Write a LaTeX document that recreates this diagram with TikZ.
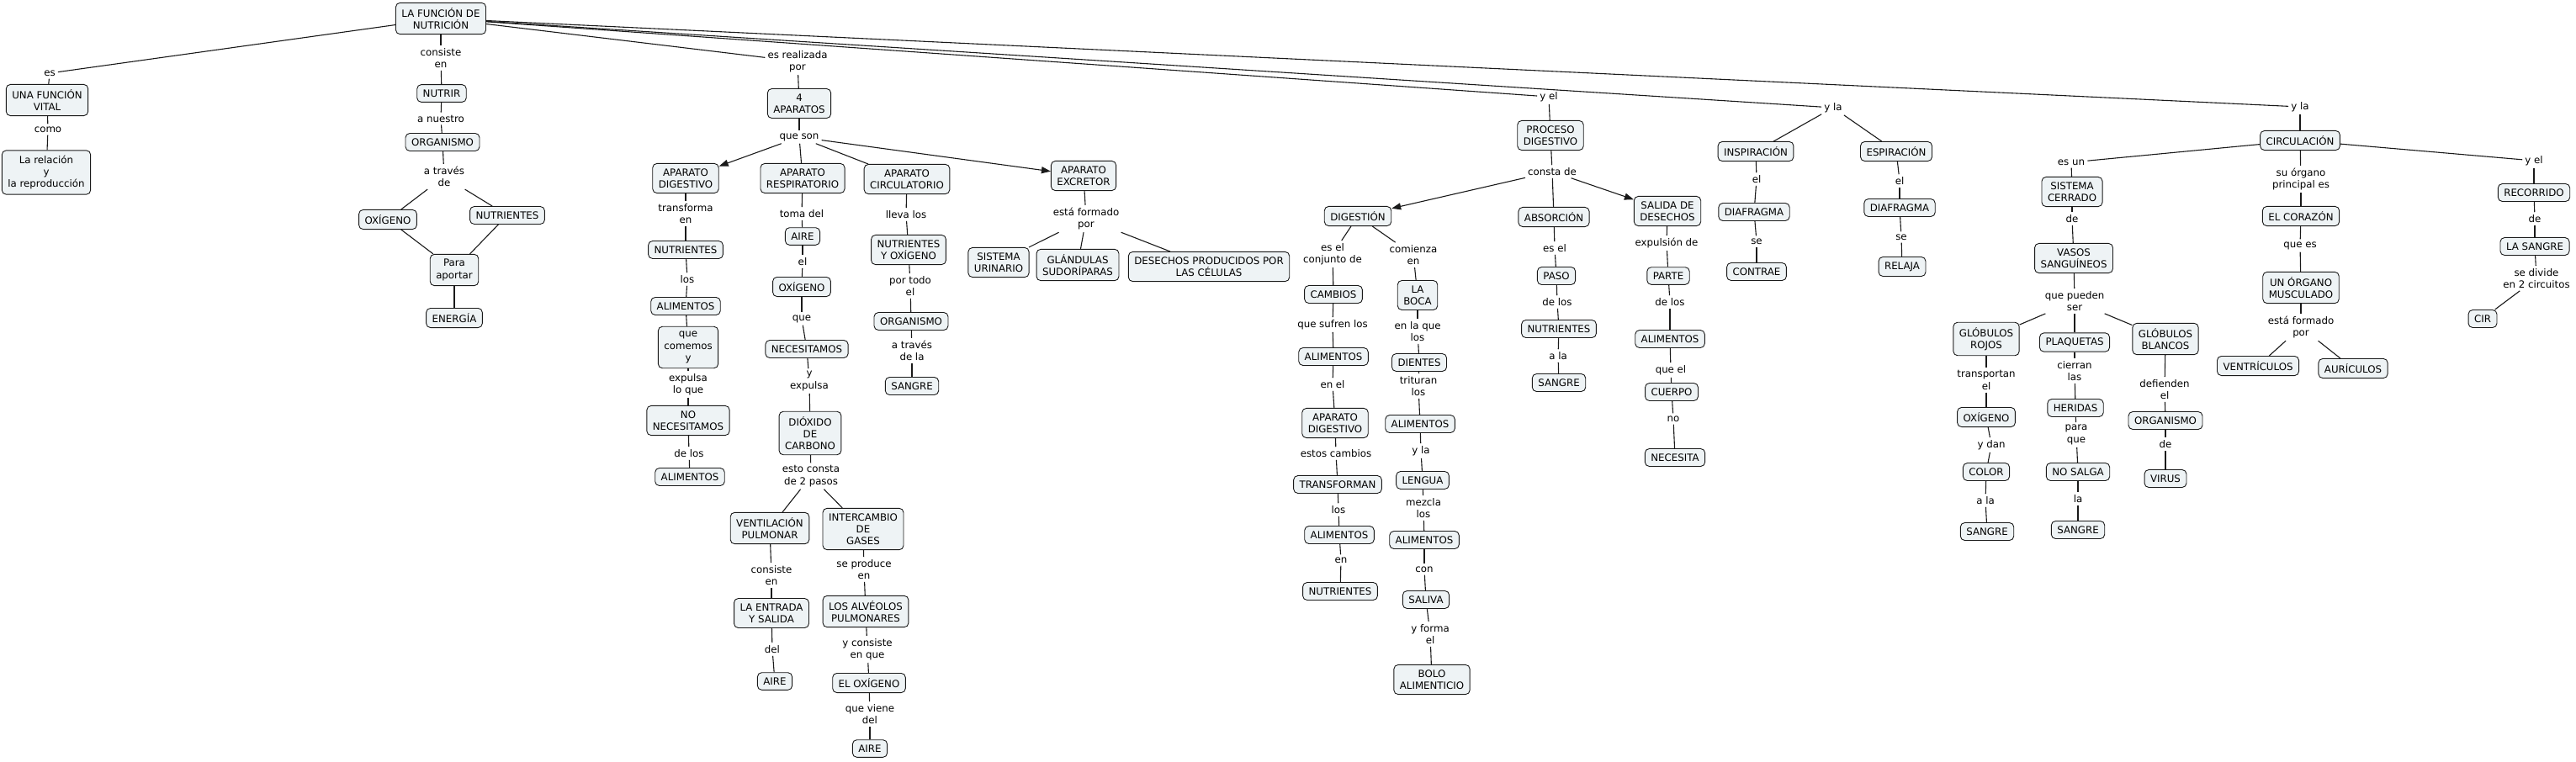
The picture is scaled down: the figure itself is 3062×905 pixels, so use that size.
\documentclass[tikz,border=0pt]{standalone}
\usepackage{fontspec}
\setmainfont{DejaVu Sans}
\usetikzlibrary{arrows.meta}
\definecolor{CmapFill}{HTML}{EEF3F5}
\definecolor{CmapLine}{HTML}{1A1A1A}

\begin{document}
\begin{tikzpicture}[x=1pt,y=-1pt,
        font=\fontsize{11.8}{14.2}\selectfont,
        cpt/.style={draw=CmapLine, line width=0.9pt, rounded corners=5pt, fill=CmapFill,
          align=center, inner xsep=7pt, inner ysep=6pt},
        lnk/.style={align=center, inner sep=3pt},
        conn/.style={draw=CmapLine, line width=1.1pt},
        arr/.style={conn, -{Triangle[length=11pt,width=8pt]}},
      ]
      \useasboundingbox (0,0) rectangle (3062,905);

      % root and left branches
      \node[cpt] (root) at (524,22) {LA FUNCIÓN DE\\NUTRICIÓN};
      \node[lnk] (lEs) at (59,87) {es};
      \node[cpt] (vital) at (56,119) {UNA FUNCIÓN\\VITAL};
      \node[lnk] (lComo) at (57,154) {como};
      \node[cpt] (relacion) at (55,205) {La relación\\y\\la reproducción};
      \node[lnk] (lConsiste) at (524,69) {consiste\\en};
      \node[cpt] (nutrir) at (525,111) {NUTRIR};
      \node[lnk] (lNuestro) at (524,141) {a nuestro};
      \node[cpt] (org) at (526,169) {ORGANISMO};
      \node[lnk] (lTraves) at (528,210) {a través\\de};
      \node[cpt] (oxi) at (461,261) {OXÍGENO};
      \node[cpt] (nutr) at (603,256) {NUTRIENTES};
      \node[cpt] (aportar) at (540,321) {Para\\aportar};
      \node[cpt] (energia) at (540,378) {ENERGÍA};

      % 4 aparatos
      \node[lnk] (lRealizada) at (948,73) {es realizada\\por};
      \node[cpt] (apar) at (950,123) {4\\APARATOS};
      \node[lnk] (lSon) at (950,163) {que son};
      \node[cpt] (apDig) at (815,212) {APARATO\\DIGESTIVO};
      \node[cpt] (apRes) at (954,212) {APARATO\\RESPIRATORIO};
      \node[cpt] (apCir) at (1078,213) {APARATO\\CIRCULATORIO};
      \node[cpt] (apExc) at (1288,209) {APARATO\\EXCRETOR};

      \node[lnk] (lTransf) at (815,254) {transforma\\en};
      \node[cpt] (dNutr) at (815,297) {NUTRIENTES};
      \node[lnk] (lLos) at (817,332) {los};
      \node[cpt] (dAlim) at (815,364) {ALIMENTOS};
      \node[cpt] (comemos) at (818,413) {que\\comemos\\y};
      \node[lnk] (lExpulsa) at (818,457) {expulsa\\lo que};
      \node[cpt] (noNec) at (818,500) {NO\\NECESITAMOS};
      \node[lnk] (lDeLos) at (819,539) {de los};
      \node[cpt] (dAlim2) at (820,567) {ALIMENTOS};

      \node[lnk] (lToma) at (953,254) {toma del};
      \node[cpt] (rAire) at (954,281) {AIRE};
      \node[lnk] (lEl) at (954,311) {el};
      \node[cpt] (rOxi) at (953,341) {OXÍGENO};
      \node[lnk] (lQue) at (953,379) {que};
      \node[cpt] (rNec) at (959,415) {NECESITAMOS};
      \node[lnk] (lYexp) at (962,453) {y\\expulsa};
      \node[cpt] (dioxido) at (963,515) {DIÓXIDO\\DE\\CARBONO};
      \node[lnk] (lPasos) at (964,566) {esto consta\\de 2 pasos};
      \node[cpt] (vent) at (915,628) {VENTILACIÓN\\PULMONAR};
      \node[cpt] (inter) at (1026,629) {INTERCAMBIO\\DE\\GASES};
      \node[lnk] (lConsiste2) at (917,684) {consiste\\en};
      \node[cpt] (entrada) at (917,729) {LA ENTRADA\\Y SALIDA};
      \node[lnk] (lDel) at (918,772) {del};
      \node[cpt] (rAire2) at (921,810) {AIRE};
      \node[lnk] (lProduce) at (1027,677) {se produce\\en};
      \node[cpt] (alveolos) at (1029,727) {LOS ALVÉOLOS\\PULMONARES};
      \node[lnk] (lConsQue) at (1031,772) {y consiste\\en que};
      \node[cpt] (elOxi) at (1033,812) {EL OXÍGENO};
      \node[lnk] (lViene) at (1034,849) {que viene\\del};
      \node[cpt] (rAire3) at (1034,890) {AIRE};

      \node[lnk] (lLleva) at (1077,255) {lleva los};
      \node[cpt] (cNutOx) at (1080,297) {NUTRIENTES\\Y OXÍGENO};
      \node[lnk] (lTodo) at (1082,340) {por todo\\el};
      \node[cpt] (cOrg) at (1083,382) {ORGANISMO};
      \node[lnk] (lTravesLa) at (1084,417) {a través\\de la};
      \node[cpt] (cSangre) at (1084,459) {SANGRE};

      \node[lnk] (lFormado) at (1291,260) {está formado\\por};
      \node[cpt] (urinario) at (1187,312) {SISTEMA\\URINARIO};
      \node[cpt] (glandulas) at (1281,315) {GLÁNDULAS\\SUDORÍPARAS};
      \node[cpt] (desechos) at (1437,317) {DESECHOS PRODUCIDOS POR\\LAS CÉLULAS};

      % proceso digestivo
      \node[lnk] (lYel) at (1841,115) {y el};
      \node[cpt] (proceso) at (1843,161) {PROCESO\\DIGESTIVO};
      \node[lnk] (lConsta) at (1845,204) {consta de};
      \node[cpt] (digestion) at (1614,257) {DIGESTIÓN};
      \node[cpt] (absorcion) at (1847,258) {ABSORCIÓN};
      \node[cpt] (salida) at (1982,251) {SALIDA DE\\DESECHOS};

      \node[lnk] (lConjunto) at (1584,302) {es el\\conjunto de};
      \node[cpt] (cambios) at (1585,350) {CAMBIOS};
      \node[lnk] (lSufren) at (1584,386) {que sufren los};
      \node[cpt] (pAlim) at (1585,424) {ALIMENTOS};
      \node[lnk] (lEnEl) at (1584,457) {en el};
      \node[cpt] (pApDig) at (1587,503) {APARATO\\DIGESTIVO};
      \node[lnk] (lCambios) at (1588,539) {estos cambios};
      \node[cpt] (transforman) at (1590,576) {TRANSFORMAN};
      \node[lnk] (lLos2) at (1591,606) {los};
      \node[cpt] (pAlim2) at (1592,636) {ALIMENTOS};
      \node[lnk] (lEn) at (1594,666) {en};
      \node[cpt] (pNutr) at (1593,703) {NUTRIENTES};

      \node[lnk] (lComienza) at (1680,303) {comienza\\en};
      \node[cpt] (boca) at (1685,351) {LA\\BOCA};
      \node[lnk] (lEnLaQue) at (1685,394) {en la que\\los};
      \node[cpt] (dientes) at (1687,431) {DIENTES};
      \node[lnk] (lTrituran) at (1686,459) {trituran\\los};
      \node[cpt] (bAlim) at (1688,504) {ALIMENTOS};
      \node[lnk] (lYla) at (1689,536) {y la};
      \node[cpt] (lengua) at (1691,571) {LENGUA};
      \node[lnk] (lMezcla) at (1692,604) {mezcla\\los};
      \node[cpt] (bAlim2) at (1693,642) {ALIMENTOS};
      \node[lnk] (lCon) at (1693,677) {con};
      \node[cpt] (saliva) at (1695,713) {SALIVA};
      \node[lnk] (lForma) at (1700,754) {y forma\\el};
      \node[cpt] (bolo) at (1702,808) {BOLO\\ALIMENTICIO};

      \node[lnk] (lEsEl) at (1848,295) {es el};
      \node[cpt] (paso) at (1850,328) {PASO};
      \node[lnk] (lDeLos2) at (1851,359) {de los};
      \node[cpt] (aNutr) at (1853,391) {NUTRIENTES};
      \node[lnk] (lALa) at (1852,423) {a la};
      \node[cpt] (aSangre) at (1853,455) {SANGRE};

      \node[lnk] (lExpulsion) at (1981,289) {expulsión de};
      \node[cpt] (parte) at (1983,328) {PARTE};
      \node[lnk] (lDeLos3) at (1985,359) {de los};
      \node[cpt] (sAlim) at (1985,403) {ALIMENTOS};
      \node[lnk] (lQueEl) at (1986,440) {que el};
      \node[cpt] (cuerpo) at (1987,466) {CUERPO};
      \node[lnk] (lNo) at (1989,498) {no};
      \node[cpt] (necesita) at (1991,544) {NECESITA};

      % inspiracion y espiracion
      \node[lnk] (lYla2) at (2179,128) {y la};
      \node[cpt] (insp) at (2087,180) {INSPIRACIÓN};
      \node[cpt] (esp) at (2254,180) {ESPIRACIÓN};
      \node[lnk] (lEl2) at (2088,213) {el};
      \node[cpt] (diaf1) at (2085,252) {DIAFRAGMA};
      \node[lnk] (lSe1) at (2088,287) {se};
      \node[cpt] (contrae) at (2088,323) {CONTRAE};
      \node[lnk] (lEl3) at (2258,215) {el};
      \node[cpt] (diaf2) at (2258,247) {DIAFRAGMA};
      \node[lnk] (lSe2) at (2260,282) {se};
      \node[cpt] (relaja) at (2261,317) {RELAJA};

      % circulacion
      \node[lnk] (lYla3) at (2734,127) {y la};
      \node[cpt] (circ) at (2734,167) {CIRCULACIÓN};
      \node[lnk] (lEsUn) at (2462,193) {es un};
      \node[cpt] (cerrado) at (2463,228) {SISTEMA\\CERRADO};
      \node[lnk] (lDe1) at (2463,260) {de};
      \node[cpt] (vasos) at (2465,307) {VASOS\\SANGUÍNEOS};
      \node[lnk] (lPueden) at (2466,358) {que pueden\\ser};
      \node[cpt] (rojos) at (2361,403) {GLÓBULOS\\ROJOS};
      \node[cpt] (plaq) at (2466,407) {PLAQUETAS};
      \node[cpt] (blancos) at (2574,403) {GLÓBULOS\\BLANCOS};
      \node[lnk] (lTransp) at (2361,452) {transportan\\el};
      \node[cpt] (gOxi) at (2361,496) {OXÍGENO};
      \node[lnk] (lDan) at (2367,529) {y dan};
      \node[cpt] (color) at (2361,561) {COLOR};
      \node[lnk] (lALa2) at (2360,595) {a la};
      \node[cpt] (gSangre) at (2362,632) {SANGRE};
      \node[lnk] (lCierran) at (2466,441) {cierran\\las};
      \node[cpt] (heridas) at (2467,485) {HERIDAS};
      \node[lnk] (lParaQue) at (2468,517) {para\\que};
      \node[cpt] (noSalga) at (2470,561) {NO SALGA};
      \node[lnk] (lLa) at (2470,593) {la};
      \node[cpt] (pSangre) at (2470,630) {SANGRE};
      \node[lnk] (lDefienden) at (2573,463) {defienden\\el};
      \node[cpt] (gOrg) at (2574,500) {ORGANISMO};
      \node[lnk] (lDe2) at (2574,528) {de};
      \node[cpt] (virus) at (2574,569) {VIRUS};

      \node[lnk] (lPrincipal) at (2735,213) {su órgano\\principal es};
      \node[cpt] (corazon) at (2735,257) {EL CORAZÓN};
      \node[lnk] (lQueEs) at (2734,292) {que es};
      \node[cpt] (musculado) at (2735,342) {UN ÓRGANO\\MUSCULADO};
      \node[lnk] (lFormado2) at (2735,389) {está formado\\por};
      \node[cpt] (ventr) at (2684,435) {VENTRÍCULOS};
      \node[cpt] (auric) at (2797,438) {AURÍCULOS};

      \node[lnk] (lYel2) at (3012,191) {y el};
      \node[cpt] (recorrido) at (3012,229) {RECORRIDO};
      \node[lnk] (lDe3) at (3013,260) {de};
      \node[cpt] (laSangre) at (3013,293) {LA SANGRE};
      \node[lnk] (lDivide) at (3015,331) {se divide\\en 2 circuitos};
      \node[cpt] (cir) at (2951,379) {CIR};

      % connectors
      \foreach \a/\b in {root/lEs, lEs/vital, vital/lComo, lComo/relacion,
          root/lConsiste, lConsiste/nutrir, nutrir/lNuestro, lNuestro/org, org/lTraves,
          lTraves/oxi, lTraves/nutr, oxi/aportar, nutr/aportar, aportar/energia,
          root/lRealizada, lRealizada/apar, apar/lSon, lSon/apRes, lSon/apCir,
          apDig/lTransf, lTransf/dNutr, dNutr/lLos, lLos/dAlim, dAlim/comemos,
          comemos/lExpulsa, lExpulsa/noNec, noNec/lDeLos, lDeLos/dAlim2,
          apRes/lToma, lToma/rAire, rAire/lEl, lEl/rOxi, rOxi/lQue, lQue/rNec,
          rNec/lYexp, lYexp/dioxido, dioxido/lPasos, lPasos/vent, lPasos/inter,
          vent/lConsiste2, lConsiste2/entrada, entrada/lDel, lDel/rAire2,
          inter/lProduce, lProduce/alveolos, alveolos/lConsQue, lConsQue/elOxi,
          elOxi/lViene, lViene/rAire3,
          apCir/lLleva, lLleva/cNutOx, cNutOx/lTodo, lTodo/cOrg, cOrg/lTravesLa,
          lTravesLa/cSangre,
          apExc/lFormado, lFormado/urinario, lFormado/glandulas, lFormado/desechos}
        \draw[conn] (\a) -- (\b);
      \foreach \a/\b in {root/lYel, lYel/proceso, proceso/lConsta, lConsta/absorcion,
          digestion/lConjunto, lConjunto/cambios, cambios/lSufren, lSufren/pAlim,
          pAlim/lEnEl, lEnEl/pApDig, pApDig/lCambios, lCambios/transforman,
          transforman/lLos2, lLos2/pAlim2, pAlim2/lEn, lEn/pNutr,
          digestion/lComienza, lComienza/boca, boca/lEnLaQue, lEnLaQue/dientes,
          dientes/lTrituran, lTrituran/bAlim, bAlim/lYla, lYla/lengua, lengua/lMezcla,
          lMezcla/bAlim2, bAlim2/lCon, lCon/saliva, saliva/lForma, lForma/bolo,
          absorcion/lEsEl, lEsEl/paso, paso/lDeLos2, lDeLos2/aNutr, aNutr/lALa,
          lALa/aSangre,
          salida/lExpulsion, lExpulsion/parte, parte/lDeLos3, lDeLos3/sAlim,
          sAlim/lQueEl, lQueEl/cuerpo, cuerpo/lNo, lNo/necesita,
          root/lYla2, lYla2/insp, lYla2/esp, insp/lEl2, lEl2/diaf1, diaf1/lSe1,
          lSe1/contrae, esp/lEl3, lEl3/diaf2, diaf2/lSe2, lSe2/relaja}
        \draw[conn] (\a) -- (\b);
      \foreach \a/\b in {root/lYla3, lYla3/circ, circ/lEsUn, lEsUn/cerrado,
          cerrado/lDe1, lDe1/vasos, vasos/lPueden, lPueden/rojos, lPueden/plaq,
          lPueden/blancos, rojos/lTransp, lTransp/gOxi, gOxi/lDan, lDan/color,
          color/lALa2, lALa2/gSangre, plaq/lCierran, lCierran/heridas,
          heridas/lParaQue, lParaQue/noSalga, noSalga/lLa, lLa/pSangre,
          blancos/lDefienden, lDefienden/gOrg, gOrg/lDe2, lDe2/virus,
          circ/lPrincipal, lPrincipal/corazon, corazon/lQueEs, lQueEs/musculado,
          musculado/lFormado2, lFormado2/ventr, lFormado2/auric,
          circ/lYel2, lYel2/recorrido, recorrido/lDe3, lDe3/laSangre,
          laSangre/lDivide, lDivide/cir}
        \draw[conn] (\a) -- (\b);
      \draw[arr] (lSon) -- (apDig);
      \draw[arr] (lSon) -- (apExc);
      \draw[arr] (lConsta) -- (digestion);
      \draw[arr] (lConsta) -- (salida);
    \end{tikzpicture}
\end{document}
